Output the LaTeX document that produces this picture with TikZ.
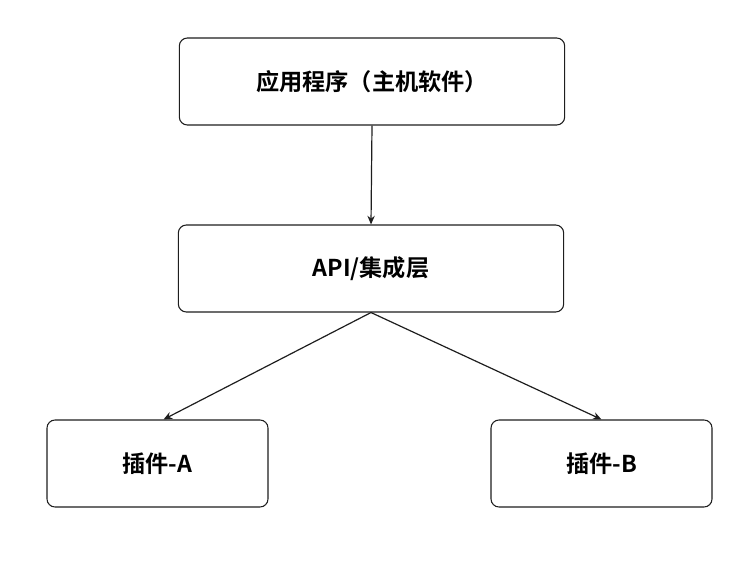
\documentclass[tikz,border=0pt]{standalone}
\usepackage{fontspec}
\usepackage{xcolor}
\usepackage{tikz}
\usetikzlibrary{arrows.meta}
\newfontfamily\cjk{Noto Sans CJK SC}[BoldFont={Noto Sans CJK SC Bold}]
\definecolor{rand}{RGB}{30,30,30}

\begin{document}
\begin{tikzpicture}[x=0.75pt, y=-0.75pt,
    laag/.style={draw=rand, line width=0.8pt, rounded corners=6pt, fill=white,
      minimum height=65.25pt, inner sep=0pt, font=\cjk\bfseries\fontsize{17.4}{20}\selectfont},
    breed/.style={laag, minimum width=289pt},
    smal/.style={laag, minimum width=165.75pt},
    pijl/.style={draw=rand, line width=0.9pt, -{Stealth[length=6.5pt, width=5.5pt]}}]
  % kader
  \useasboundingbox (0,0) rectangle (750,567);
  % lagen
  \node[breed] (app) at (372,81.5) {应用程序（主机软件）};
  \node[breed] (api) at (371,268.5) {API/集成层};
  % plugins
  \node[smal] (plugA) at (157.5,463.5) {插件-A};
  \node[smal] (plugB) at (601.5,463.5) {插件-B};
  % pijlen
  \draw[pijl] (app.south) -- (api.north);
  \draw[pijl] (api.south) -- ([xshift=4.5pt]plugA.north);
  \draw[pijl] (api.south) -- (plugB.north);
\end{tikzpicture}
\end{document}
